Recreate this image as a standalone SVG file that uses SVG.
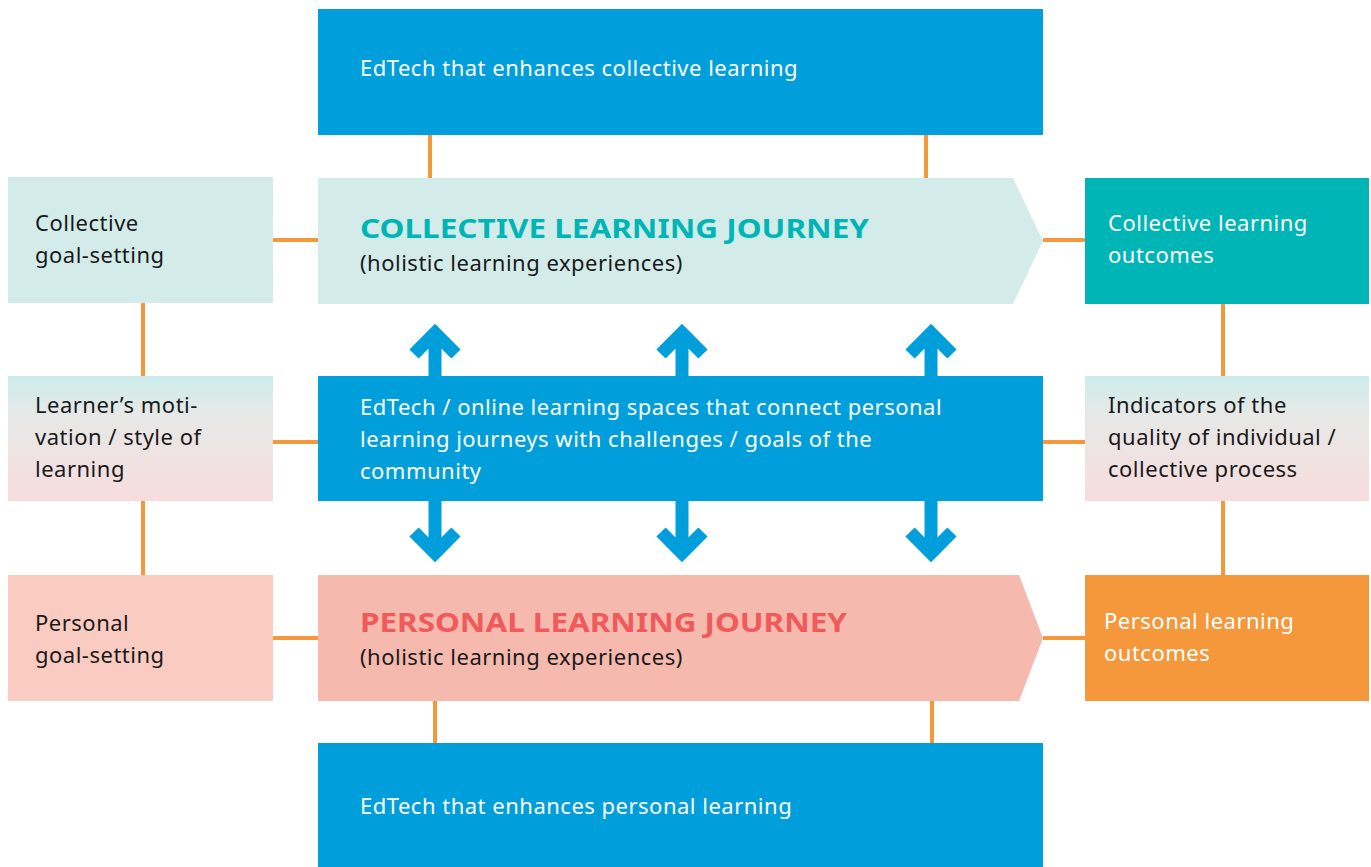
<svg xmlns="http://www.w3.org/2000/svg" width="1371" height="867" viewBox="0 0 1371 867">
<defs>
<linearGradient id="mixg" x1="0" y1="0" x2="0" y2="1">
<stop offset="0" stop-color="#ccecec"/>
<stop offset="0.3" stop-color="#e6e9e8"/>
<stop offset="1" stop-color="#f8dcdc"/>
</linearGradient>
<style>
.t{font-family:"Noto Sans","Liberation Sans",sans-serif;font-size:22px;letter-spacing:0.5px;fill:#1a1a1a}
.w{fill:#ffffff}
.h{font-family:"Noto Sans","Liberation Sans",sans-serif;font-size:27px;font-weight:bold}
.c{stroke:#f5983c;stroke-width:4;fill:none}
.a{stroke:#009fdb;stroke-width:13;fill:none;stroke-linejoin:miter;stroke-linecap:butt}
.blue{fill:#009fdb}
</style>
</defs>
<rect width="1371" height="867" fill="#ffffff"/>
<g id="connectors">
<line class="c" x1="430" y1="135" x2="430" y2="179"/>
<line class="c" x1="926" y1="135" x2="926" y2="179"/>
<line class="c" x1="273" y1="240" x2="318" y2="240"/>
<line class="c" x1="1043" y1="240" x2="1085" y2="240"/>
<line class="c" x1="143" y1="303" x2="143" y2="376"/>
<line class="c" x1="1223" y1="304" x2="1223" y2="376"/>
<line class="c" x1="273" y1="442" x2="318" y2="442"/>
<line class="c" x1="1043" y1="442" x2="1085" y2="442"/>
<line class="c" x1="143" y1="501" x2="143" y2="575"/>
<line class="c" x1="1223" y1="501" x2="1223" y2="575"/>
<line class="c" x1="273" y1="638" x2="318" y2="638"/>
<line class="c" x1="1043" y1="638" x2="1085" y2="638"/>
<line class="c" x1="435" y1="700" x2="435" y2="743"/>
<line class="c" x1="932" y1="700" x2="932" y2="743"/>
<path class="a" d="M414 354 L435 333 L456 354 M435 333 L435 377"/>
<path class="a" d="M661 354 L682 333 L703 354 M682 333 L682 377"/>
<path class="a" d="M910 354 L931 333 L952 354 M931 333 L931 377"/>
<path class="a" d="M414 532 L435 553 L456 532 M435 553 L435 500"/>
<path class="a" d="M661 532 L682 553 L703 532 M682 553 L682 500"/>
<path class="a" d="M910 532 L931 553 L952 532 M931 553 L931 500"/>
</g>
<g id="edtech-collective">
<rect class="blue" x="318" y="9" width="725" height="126"/>
<text class="t w" x="360" y="76">EdTech that enhances collective learning</text>
</g>
<g id="collective-goal">
<rect x="8" y="177" width="265" height="126" fill="#d3ecea"/>
<text class="t" x="35" y="231">Collective</text>
<text class="t" x="35" y="263">goal-setting</text>
</g>
<g id="collective-journey">
<polygon points="318,178 1013,178 1043,241 1013,304 318,304" fill="#d3ecea"/>
<text class="h" x="360" y="238" fill="#00b5b5" textLength="509" lengthAdjust="spacingAndGlyphs">COLLECTIVE LEARNING JOURNEY</text>
<text class="t" x="360" y="271">(holistic learning experiences)</text>
</g>
<g id="collective-outcomes">
<rect x="1085" y="178" width="284" height="126" fill="#00b5b5"/>
<text class="t w" x="1108" y="231">Collective learning</text>
<text class="t w" x="1108" y="263">outcomes</text>
</g>
<g id="motivation">
<rect x="8" y="376" width="265" height="125" fill="url(#mixg)"/>
<text class="t" x="35" y="413">Learner’s moti-</text>
<text class="t" x="35" y="445">vation / style of</text>
<text class="t" x="35" y="477">learning</text>
</g>
<g id="edtech-online">
<rect class="blue" x="318" y="376" width="725" height="125"/>
<text class="t w" x="360" y="415">EdTech / online learning spaces that connect personal</text>
<text class="t w" x="360" y="447">learning journeys with challenges / goals of the</text>
<text class="t w" x="360" y="479">community</text>
</g>
<g id="indicators">
<rect x="1085" y="376" width="284" height="125" fill="url(#mixg)"/>
<text class="t" x="1108" y="413">Indicators of the</text>
<text class="t" x="1108" y="445">quality of individual /</text>
<text class="t" x="1108" y="477">collective process</text>
</g>
<g id="personal-goal">
<rect x="8" y="575" width="265" height="126" fill="#f9cbc1"/>
<text class="t" x="35" y="631">Personal</text>
<text class="t" x="35" y="663">goal-setting</text>
</g>
<g id="personal-journey">
<polygon points="318,575 1019,575 1043,638 1019,701 318,701" fill="#f6b9ad"/>
<text class="h" x="360" y="632" fill="#f05a5a" textLength="487" lengthAdjust="spacingAndGlyphs">PERSONAL LEARNING JOURNEY</text>
<text class="t" x="360" y="665">(holistic learning experiences)</text>
</g>
<g id="personal-outcomes">
<rect x="1085" y="575" width="284" height="126" fill="#f5983c"/>
<text class="t w" x="1104" y="629">Personal learning</text>
<text class="t w" x="1104" y="661">outcomes</text>
</g>
<g id="edtech-personal">
<rect class="blue" x="318" y="743" width="725" height="124"/>
<text class="t w" x="360" y="814">EdTech that enhances personal learning</text>
</g>
</svg>
